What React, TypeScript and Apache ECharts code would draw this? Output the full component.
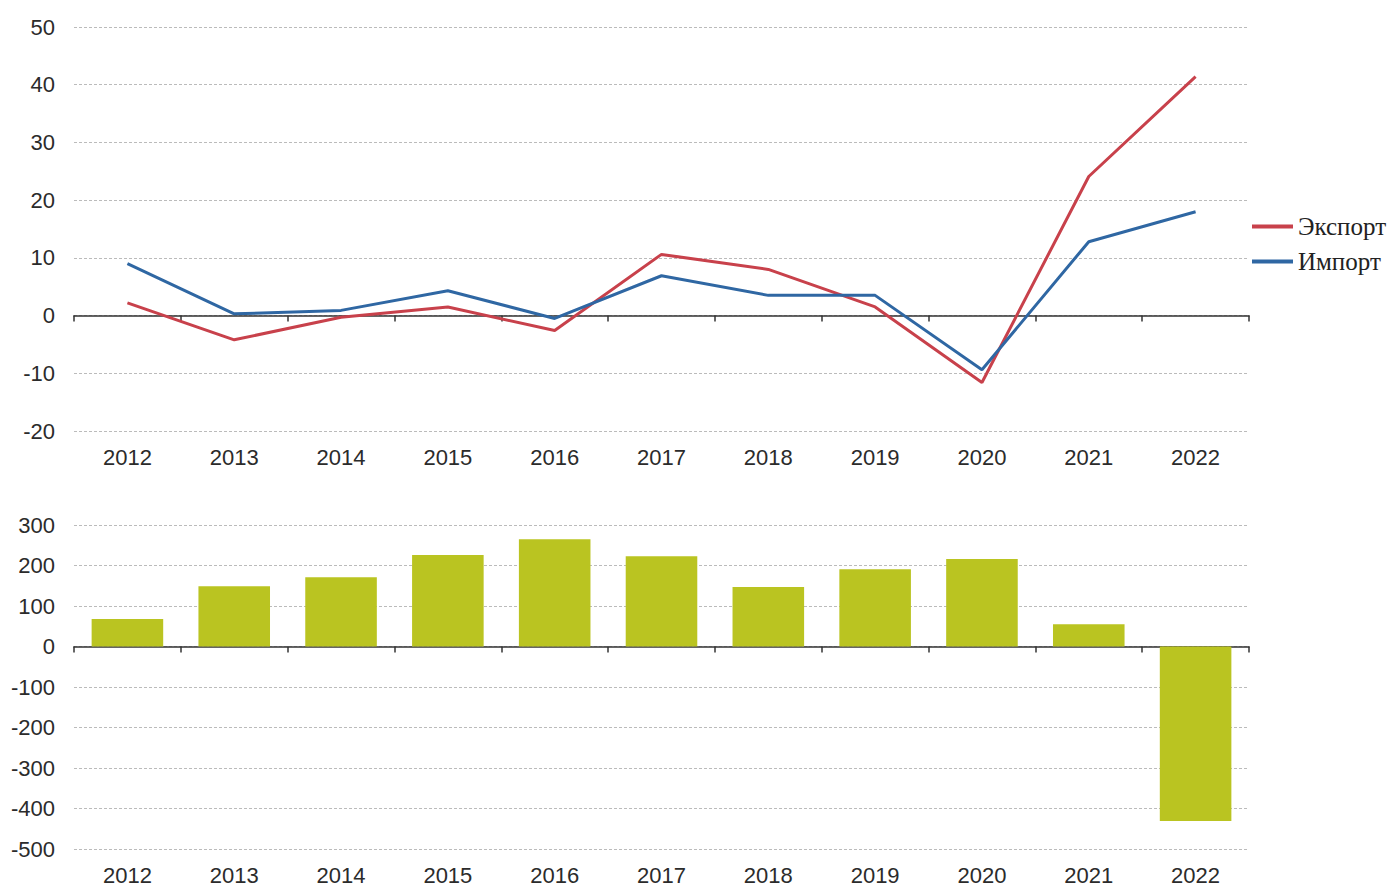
import React, { useEffect, useRef } from "react";
import * as echarts from "echarts";

const years = ["2012", "2013", "2014", "2015", "2016", "2017", "2018", "2019", "2020", "2021", "2022"];
const exportValues = [2.2, -4.2, -0.3, 1.5, -2.6, 10.6, 8.0, 1.5, -11.6, 24.1, 41.4];
const importValues = [9.0, 0.3, 0.9, 4.3, -0.5, 6.9, 3.5, 3.5, -9.4, 12.8, 18.0];
const balanceValues = [68, 149, 171, 226, 265, 223, 147, 191, 216, 55, -431];

const exportName = "Экспорт";
const importName = "Импорт";

export default function App() {
  const ref = useRef<HTMLDivElement>(null);
  useEffect(() => {
    if (!ref.current) return;
    const chart = echarts.init(ref.current, null, { renderer: "svg" });
    const labelStyle = { fontFamily: "Liberation Sans, Arial, sans-serif", fontSize: 22, color: "#2b2b2b" };
    const splitLine = { show: true, lineStyle: { color: "#bbbbbb", type: [3, 2] as any, width: 1 } };
    const zeroAxis = (gridIndex: number) => ({
      type: "category",
      gridIndex,
      data: years,
      boundaryGap: true,
      axisLine: { show: true, onZero: true, lineStyle: { color: "#333", width: 1.5 } },
      axisTick: { show: true, inside: false, length: 6, lineStyle: { color: "#333", width: 1.5 } },
      axisLabel: { show: false },
      splitLine: { show: false },
    });
    const labelAxis = (gridIndex: number) => ({
      type: "category",
      gridIndex,
      data: years,
      position: "bottom",
      boundaryGap: true,
      axisLine: { show: false, onZero: false },
      axisTick: { show: false },
      axisLabel: { ...labelStyle, margin: 15 },
      splitLine: { show: false },
    });
    chart.setOption({
      animation: false,
      backgroundColor: "#ffffff",
      legend: {
        orient: "vertical",
        left: 1252,
        top: 214,
        padding: 0,
        itemWidth: 41,
        itemHeight: 4,
        itemGap: 10,
        icon: "rect",
        textStyle: { fontFamily: "Liberation Serif, Times New Roman, serif", fontSize: 25, color: "#222" },
        data: [exportName, importName],
      },
      grid: [
        { left: 74, right: 142, top: 27, bottom: 456 },
        { left: 74, right: 142, top: 525, bottom: 38 },
      ],
      xAxis: [zeroAxis(0), labelAxis(0), zeroAxis(1), labelAxis(1)],
      yAxis: [
        {
          type: "value",
          gridIndex: 0,
          min: -20,
          max: 50,
          interval: 10,
          axisLine: { show: false },
          axisTick: { show: false },
          axisLabel: { ...labelStyle, margin: 19 },
          splitLine,
        },
        {
          type: "value",
          gridIndex: 1,
          min: -500,
          max: 300,
          interval: 100,
          axisLine: { show: false },
          axisTick: { show: false },
          axisLabel: { ...labelStyle, margin: 19 },
          splitLine,
        },
      ],
      series: [
        {
          name: exportName,
          type: "line",
          xAxisIndex: 0,
          yAxisIndex: 0,
          data: exportValues,
          symbol: "none",
          lineStyle: { color: "#c8414b", width: 3 },
          itemStyle: { color: "#c8414b" },
        },
        {
          name: importName,
          type: "line",
          xAxisIndex: 0,
          yAxisIndex: 0,
          data: importValues,
          symbol: "none",
          lineStyle: { color: "#2f67a3", width: 3 },
          itemStyle: { color: "#2f67a3" },
        },
        {
          name: "Сальдо",
          type: "bar",
          xAxisIndex: 2,
          yAxisIndex: 1,
          data: balanceValues,
          barCategoryGap: "33%",
          itemStyle: { color: "#bac421" },
        },
      ],
    });
    return () => chart.dispose();
  }, []);
  return <div ref={ref} style={{ position: "absolute", left: 0, top: 0, width: 1391, height: 887 }} />;
}
